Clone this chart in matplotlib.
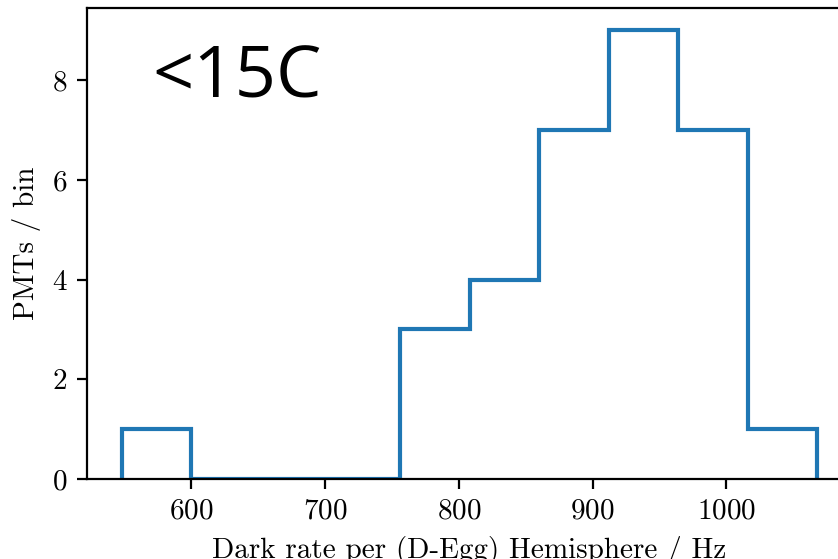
import numpy as np
import matplotlib
matplotlib.use("Agg")
import matplotlib.pyplot as plt

#%% Data
bin_edges = [548, 600, 652, 704, 756, 808, 860, 912, 964, 1016, 1068]  # [Hz]
counts    = [1, 0, 0, 0, 3, 4, 7, 9, 7, 1]                               # PMTs per bin

#%% Style
plt.rcParams['font.family'] = 'serif'
plt.rcParams['font.serif'] = ['cmr10']
plt.rcParams['mathtext.fontset'] = 'cm'
plt.rcParams['axes.formatter.use_mathtext'] = True
plt.rcParams['font.size'] = 10.5

#%% Plot
fig = plt.figure(figsize=(4.19, 2.795), dpi=200)
ax = fig.add_axes([0.1038, 0.1431, 0.913, 0.8426])

ax.hist(bin_edges[:-1], bins=bin_edges, weights=counts, histtype='step',
        color='#1f77b4', linewidth=1.5)

ax.set_xlabel('Dark rate per (D-Egg) Hemisphere / Hz')
ax.set_ylabel('PMTs / bin')

fig.text(152/838, 1 - 97/559, '<15C', family='Open Sans', fontsize=26,
         color='black', ha='left', va='baseline')

fig.savefig('out.png', dpi=200)
